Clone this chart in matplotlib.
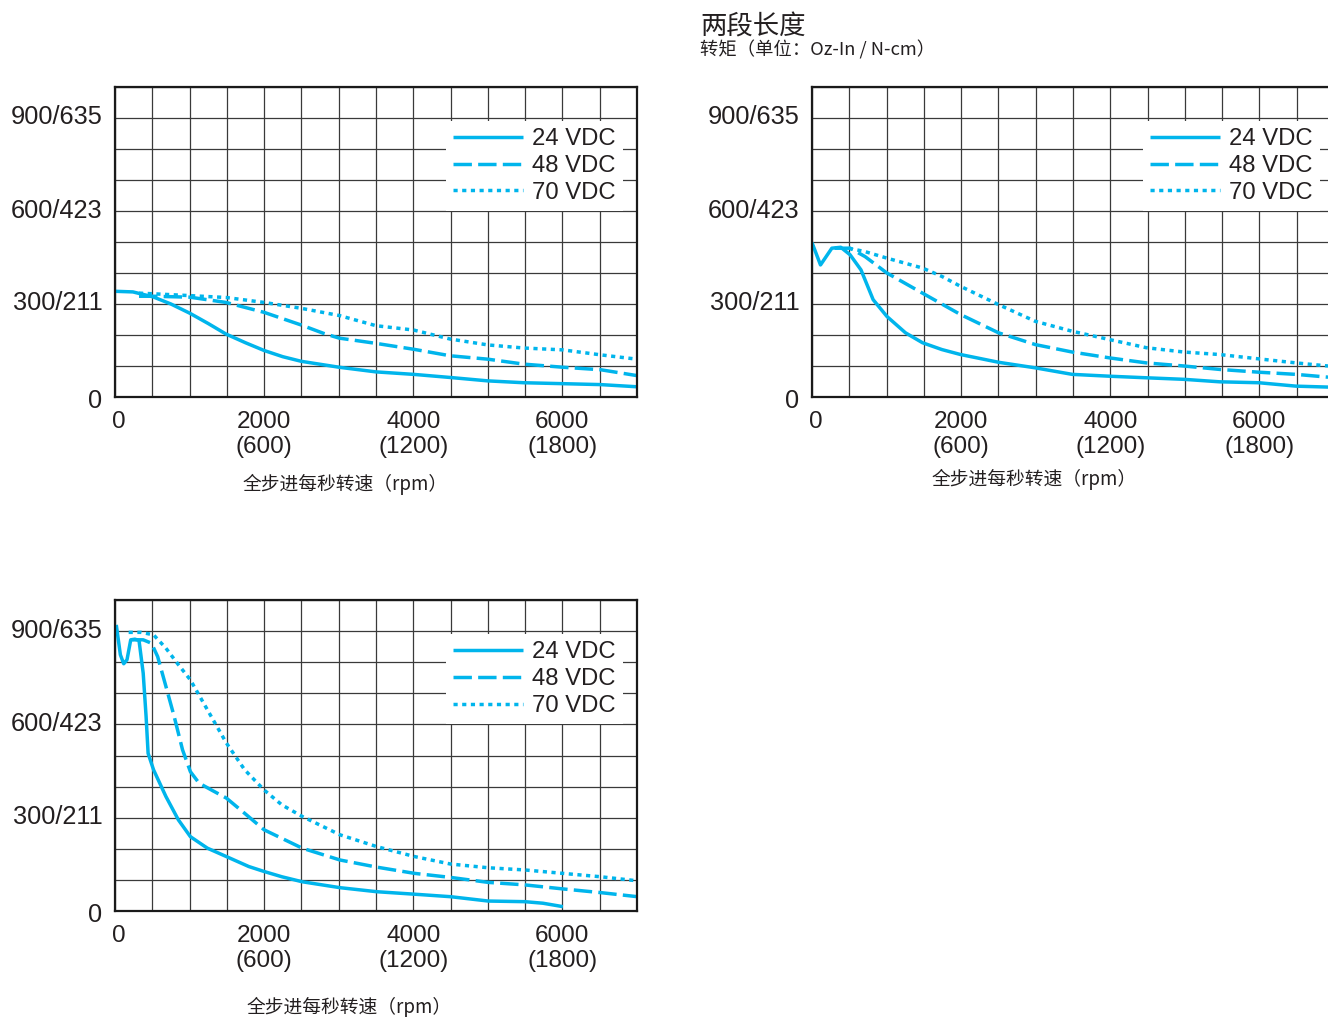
import matplotlib
matplotlib.use("Agg")
import matplotlib.pyplot as plt
from matplotlib.transforms import ScaledTranslation

# ---------------- data ----------------
# Chart 1 (top-left)
c1_24_x = [0, 240, 511, 750, 1005, 1250, 1489, 1750, 2000, 2250, 2500, 3005, 3500, 4005, 4494, 5000, 5483, 6005, 6511, 7000]
c1_24_y = [341, 339, 323, 300, 270, 237, 203, 175, 150, 130, 115, 96, 81, 73, 63, 52, 46, 43, 40, 33]
c1_48_x = [322, 511, 1005, 1489, 2000, 2500, 2800, 3005, 3500, 4005, 4494, 5000, 5483, 6005, 6511, 7000]
c1_48_y = [325, 325, 322, 305, 273, 232, 205, 190, 173, 154, 133, 122, 106, 96, 88, 69]
c1_70_x = [322, 511, 1005, 1489, 2000, 2500, 3005, 3500, 4005, 4494, 5000, 5483, 6005, 6511, 7000]
c1_70_y = [335, 333, 327, 321, 305, 286, 263, 230, 216, 187, 168, 158, 152, 136, 122]

# Chart 2 (top-right)
c2_24_x = [0, 114, 266, 385, 510, 657, 820, 1004, 1254, 1482, 1742, 1992, 2502, 2996, 3490, 3995, 4483, 4988, 5466, 5992, 6491, 6920]
c2_24_y = [498, 426, 480, 483, 459, 410, 314, 260, 207, 175, 153, 137, 112, 94, 73, 67, 62, 57, 49, 46, 35, 32]
c2_48_x = [304, 510, 711, 1004, 1482, 1992, 2502, 2996, 3490, 3995, 4483, 4988, 5466, 5992, 6491, 6920]
c2_48_y = [480, 480, 453, 400, 335, 266, 207, 169, 145, 126, 110, 100, 89, 80, 73, 64]
c2_70_x = [494, 711, 1004, 1482, 1742, 1992, 2502, 2996, 3490, 3995, 4483, 4988, 5466, 5992, 6491, 6920]
c2_70_y = [480, 469, 448, 416, 389, 357, 298, 244, 212, 185, 159, 145, 137, 123, 110, 100]

# Chart 3 (bottom-left)
c3_24_x = [17, 72, 117, 161, 211, 267, 322, 378, 417, 444, 517, 683, 850, 1011, 1239, 1494, 1794, 2000, 2239, 2511, 3017, 3511, 4017, 4500, 5006, 5494, 5739, 6006]
c3_24_y = [920, 824, 795, 808, 872, 874, 870, 765, 625, 507, 454, 368, 293, 239, 202, 175, 143, 127, 110, 94, 75, 62, 54, 46, 32, 30, 25, 14]
c3_48_x = [230, 378, 489, 572, 683, 794, 906, 1011, 1128, 1294, 1494, 1739, 2000, 2511, 3017, 3511, 4017, 4500, 5006, 5494, 6006, 6517, 7006]
c3_48_y = [872, 872, 861, 818, 722, 625, 518, 448, 411, 389, 363, 314, 261, 202, 164, 141, 121, 108, 92, 84, 71, 59, 46]
c3_70_x = [183, 350, 517, 683, 850, 1011, 1239, 1494, 1739, 2000, 2239, 2511, 3017, 3511, 4017, 4500, 5006, 5494, 6006, 6517, 7006]
c3_70_y = [896, 896, 888, 845, 792, 743, 647, 540, 454, 389, 341, 304, 245, 207, 175, 151, 139, 132, 121, 110, 97]

series_labels = ["24 VDC", "48 VDC", "70 VDC"]
x_tick_vals = [0, 2000, 4000, 6000]
x_tick_labels = ["0", "2000\n(600)", "4000\n(1200)", "6000\n(1800)"]
y_tick_vals = [0, 300, 600, 900]
y_tick_labels = ["0", "300/211", "600/423", "900/635"]
xlabel_text = "全步进每秒转速（rpm）"
title_text = "两段长度"
subtitle_text = "转矩（单位：Oz-In / N-cm）"

# ---------------- style ----------------
W, H = 1328, 1017
fig = plt.figure(figsize=(W / 100, H / 100), dpi=100)
fig.patch.set_facecolor("white")

CYAN = "#00B5EC"
TXT = "#231F20"
LW = 2.5
CJK = ["Noto Sans CJK SC", "DejaVu Sans"]
LAT = ["Liberation Sans", "DejaVu Sans"]


def px_axes(left, top, right, bottom):
    return [left / W, 1 - bottom / H, (right - left) / W, (bottom - top) / H]


def shift(artist, dx_px, dy_px):
    artist.set_transform(artist.get_transform() +
                         ScaledTranslation(dx_px / 100, dy_px / 100, fig.dpi_scale_trans))


def make_chart(rect, data):
    ax = fig.add_axes(rect)
    ax.set_xlim(0, 7000)
    ax.set_ylim(0, 1000)
    ax.set_xticks(range(0, 7001, 500))
    ax.set_yticks(range(0, 1001, 100))
    ax.set_xticklabels([x_tick_labels[x_tick_vals.index(v)] if v in x_tick_vals else "" for v in range(0, 7001, 500)])
    ax.set_yticklabels([y_tick_labels[y_tick_vals.index(v)] if v in y_tick_vals else "" for v in range(0, 1001, 100)])
    ax.tick_params(axis="x", length=0, labelsize=17.5, colors=TXT, pad=10)
    ax.tick_params(axis="y", length=0, labelsize=18.3, colors=TXT, pad=9)
    for lab in ax.get_xticklabels() + ax.get_yticklabels():
        lab.set_family(LAT)
        lab.set_linespacing(1.18)
    for lab in ax.get_yticklabels():
        if lab.get_text() == "0":
            shift(lab, 0, -2)
        else:
            shift(lab, 0, 3)
    for lab in ax.get_xticklabels():
        if lab.get_text() == "0":
            shift(lab, 4, 0)
    ax.grid(True, color="#3a3a3a", linewidth=0.9)
    for s in ax.spines.values():
        s.set_linewidth(1.6)
        s.set_color("#1a1a1a")
    (x24, y24), (x48, y48), (x70, y70) = data
    ax.plot(x24, y24, color=CYAN, lw=LW, solid_capstyle="butt", label=series_labels[0])
    ax.plot(x48, y48, color=CYAN, lw=LW, dashes=(5.3, 1.8), label=series_labels[1])
    ax.plot(x70, y70, color=CYAN, lw=LW, dashes=(1.2, 1.3), label=series_labels[2])
    leg = ax.legend(loc="upper right", bbox_to_anchor=(0.973, 0.89), borderaxespad=0,
                    prop={"family": LAT, "size": 17.2}, frameon=True, fancybox=False,
                    facecolor="white", edgecolor="none", framealpha=1,
                    handlelength=2.9, handletextpad=0.4, labelspacing=0.2, borderpad=0.3)
    for t in leg.get_texts():
        t.set_color(TXT)
    return ax


make_chart(px_axes(115, 87, 637, 397), [(c1_24_x, c1_24_y), (c1_48_x, c1_48_y), (c1_70_x, c1_70_y)])
make_chart(px_axes(812, 87, 1334, 397), [(c2_24_x, c2_24_y), (c2_48_x, c2_48_y), (c2_70_x, c2_70_y)])
make_chart(px_axes(115, 600, 637, 911), [(c3_24_x, c3_24_y), (c3_48_x, c3_48_y), (c3_70_x, c3_70_y)])

# x-axis captions
for cx, cy in [(345, 484), (1034, 479), (349, 1007)]:
    fig.text(cx / W, 1 - cy / H, xlabel_text, ha="center", va="center", fontsize=13.5,
             family=CJK, color=TXT)

# title
fig.text(700 / W, 1 - 27 / H, title_text, ha="left", va="center", fontsize=19, family=CJK, color=TXT)
fig.text(700 / W, 1 - 50 / H, subtitle_text, ha="left", va="center", fontsize=13.2, family=CJK, color=TXT)

fig.savefig("out.png", dpi=100, facecolor="white")
